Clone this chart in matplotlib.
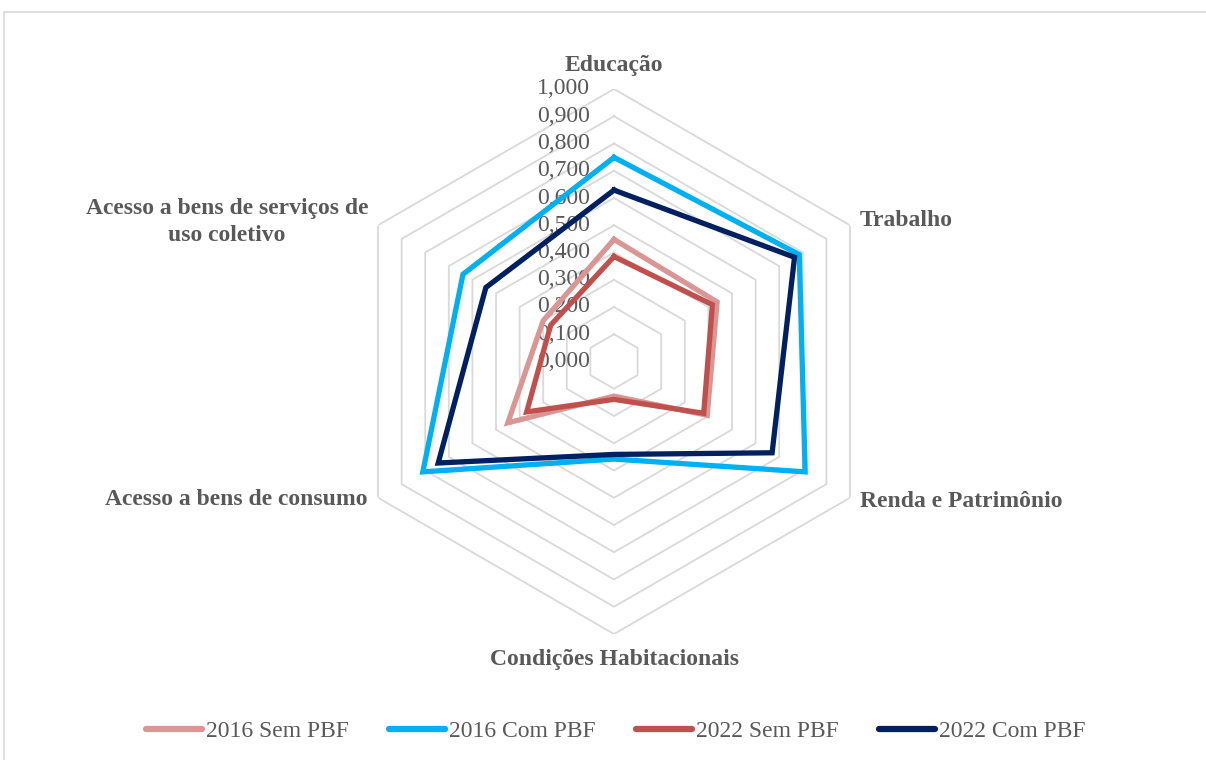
import numpy as np
import matplotlib
matplotlib.use("Agg")
import matplotlib.pyplot as plt
from matplotlib.patches import Rectangle

# --- data ---
categories = ["Educação", "Trabalho", "Renda e Patrimônio",
              "Condições Habitacionais", "Acesso a bens de consumo",
              "Acesso a bens de serviços de\nuso coletivo"]
series_names = ["2016 Sem PBF", "2016 Com PBF", "2022 Sem PBF", "2022 Com PBF"]
sem_2016 = [0.448, 0.437, 0.395, 0.127, 0.450, 0.300]
com_2016 = [0.749, 0.785, 0.810, 0.358, 0.810, 0.640]
sem_2022 = [0.385, 0.417, 0.380, 0.139, 0.370, 0.268]
com_2022 = [0.629, 0.765, 0.670, 0.341, 0.745, 0.543]
ticks = [0.0, 0.1, 0.2, 0.3, 0.4, 0.5, 0.6, 0.7, 0.8, 0.9, 1.0]

colors = ["#D99694", "#00B0F0", "#C0504D", "#002060"]
TXT = "#595959"
GRID = "#D9D9D9"
FONT = "Liberation Serif"
FS = 17

# --- figure ---
W, H = 1206, 760
fig = plt.figure(figsize=(W / 100, H / 100), dpi=100)
cx, cy, R = 614, 361.5, 272.5
ax = fig.add_axes([(cx - R) / W, (H - cy - R) / H, 2 * R / W, 2 * R / H],
                  projection="polar")
ax.set_theta_offset(np.pi / 2)
ax.set_theta_direction(-1)
ax.set_ylim(0, 1)
ax.grid(False)
ax.set_xticks([])
ax.set_yticks([])
ax.spines["polar"].set_visible(False)
ax.patch.set_alpha(0)

n = len(categories)
angles = np.linspace(0, 2 * np.pi, n, endpoint=False)
ang_closed = np.append(angles, angles[0])

# hexagonal rings
for v in ticks[1:]:
    ax.plot(ang_closed, [v] * (n + 1), color=GRID, lw=1.3, zorder=1)

# series
for name, vals, c in zip(series_names, [sem_2016, com_2016, sem_2022, com_2022], colors):
    ax.plot(ang_closed, list(vals) + [vals[0]], color=c, lw=3.8,
            solid_joinstyle="miter", label=name, zorder=3)

# value labels along the top axis
for v in ticks:
    ax.annotate(f"{v:.3f}".replace(".", ","), xy=(0, v), xytext=(-24, 0),
                textcoords="offset pixels", ha="right", va="center",
                fontsize=FS, color=TXT, family=FONT, zorder=2)

# category labels
label_pos = [((0, 24), "center"), ((10, 5), "left"), ((10, -4), "left"),
             ((0, -25), "center"), ((-11, -2), "right"), ((-10, 3), "right")]
for a, cat, (off, ha) in zip(angles, categories, label_pos):
    ax.annotate(cat, xy=(a, 1.0), xytext=off, textcoords="offset pixels",
                ha=ha, va="center", multialignment="center", linespacing=1.35,
                fontsize=FS, fontweight="bold", color=TXT, family=FONT,
                annotation_clip=False)

# legend
leg = fig.legend(loc="center", bbox_to_anchor=(615.5 / W, 1 - 731 / H), ncol=4,
                 frameon=False, prop={"family": FONT, "size": FS},
                 handlelength=2.4, handletextpad=0.15, columnspacing=1.7)
for t in leg.get_texts():
    t.set_color(TXT)
for h in leg.get_lines():
    h.set_linewidth(4.5)
    h.set_solid_capstyle("round")

# chart frame
fig.add_artist(Rectangle((4 / W, -0.1), 1.1, 1 - 12 / H + 0.1,
                         transform=fig.transFigure, fill=False,
                         edgecolor=GRID, lw=1.2))

fig.savefig("out.png", dpi=100)
